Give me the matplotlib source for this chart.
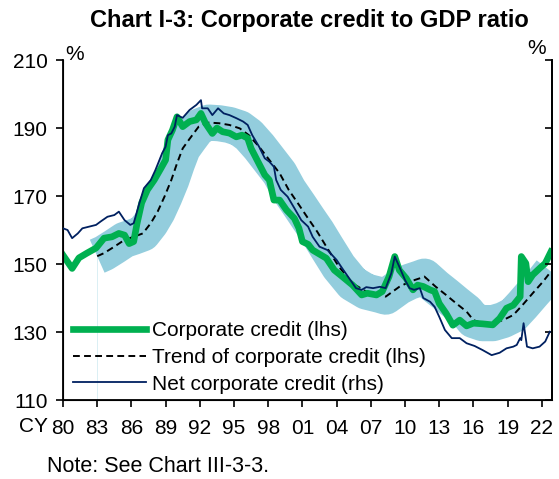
import matplotlib
matplotlib.use("Agg")
import matplotlib.pyplot as plt

plt.rcParams['font.family'] = ['Liberation Sans', 'DejaVu Sans']

# corporate credit to GDP (lhs), %
corp_years = [1980.0, 1980.8, 1981.4, 1982.1, 1982.9, 1983.6, 1984.3, 1984.9, 1985.4, 1985.8,
              1986.2, 1986.5, 1986.9, 1987.4, 1988.0, 1988.6, 1989.0, 1989.2, 1989.6, 1990.0,
              1990.5, 1991.1, 1991.7, 1992.1, 1992.5, 1993.1, 1993.5, 1994.0, 1994.6, 1995.2,
              1995.7, 1996.2, 1996.5, 1997.1, 1997.7, 1998.1, 1998.5, 1999.0, 1999.6, 2000.3,
              2000.7, 2001.0, 2001.5, 2001.9, 2003.1, 2003.8, 2004.5, 2005.4, 2006.2, 2006.7,
              2007.5, 2008.0, 2008.6, 2009.1, 2009.5, 2010.1, 2010.7, 2011.1, 2011.6, 2012.2,
              2012.6, 2013.0, 2013.6, 2014.2, 2014.8, 2015.4, 2016.0, 2016.8, 2017.7, 2018.3,
              2018.9, 2019.5, 2020.1, 2020.2, 2020.6, 2020.8, 2021.2, 2021.8, 2022.3, 2022.8]
corp_vals = [152.6, 148.7, 151.8, 153.2, 154.7, 157.6, 158.0, 159.0, 158.5, 156.0,
             156.6, 162.0, 168.0, 171.8, 174.7, 178.2, 180.6, 186.5, 189.4, 193.3,
             190.4, 191.9, 192.4, 194.3, 191.4, 188.4, 190.0, 188.9, 188.5, 187.4,
             187.9, 187.0, 184.0, 180.1, 176.2, 174.7, 168.8, 168.8, 165.9, 163.4,
             160.5, 156.6, 155.8, 154.1, 151.7, 148.2, 146.3, 143.8, 140.9, 141.4,
             140.9, 141.9, 146.3, 152.2, 148.2, 145.8, 142.4, 143.8, 143.4, 142.4,
             141.9, 138.4, 135.5, 132.0, 133.5, 131.8, 132.6, 132.4, 132.1, 134.0,
             137.0, 137.9, 140.4, 152.2, 150.2, 144.8, 146.8, 148.7, 150.2, 153.6]

# trend of corporate credit (lhs)
trend_years = [1983.0, 1983.6, 1984.5, 1985.4, 1986.2, 1987.0, 1987.7, 1988.3, 1988.9, 1989.5,
               1990.0, 1990.5, 1991.1, 1991.9, 1992.8, 1993.7, 1994.6, 1995.5, 1996.3, 1997.2,
               1998.1, 1999.0, 1999.8, 2000.7, 2001.5, 2002.3, 2003.1, 2004.2, 2005.4, 2006.6,
               2007.8, 2008.3, 2009.5, 2010.4, 2011.3, 2011.7, 2012.7, 2013.6, 2014.5, 2015.4,
               2016.0, 2016.8, 2017.7, 2018.6, 2019.5, 2020.3, 2021.2, 2022.1, 2022.8]
trend_vals = [152.3, 153.2, 155.1, 157.1, 158.0, 159.0, 162.0, 165.4, 169.8, 174.7,
              179.6, 184.0, 186.8, 190.4, 191.6, 191.4, 190.9, 189.9, 187.9, 184.5,
              180.6, 176.7, 171.8, 167.4, 163.4, 159.5, 155.1, 149.2, 144.3, 141.9,
              140.9, 140.4, 143.3, 144.8, 145.8, 146.3, 143.3, 140.9, 138.4, 136.0,
              133.5, 132.6, 132.6, 133.5, 135.0, 137.9, 141.4, 144.8, 147.8]

# net corporate credit (rhs)
net_years = [1980.0, 1980.4, 1980.8, 1981.3, 1981.7, 1982.3, 1982.9, 1983.3, 1983.9, 1984.5,
             1984.9, 1985.4, 1985.9, 1986.2, 1986.7, 1987.1, 1987.7, 1988.1, 1988.4, 1988.7,
             1989.0, 1989.2, 1989.5, 1989.8, 1990.0, 1990.5, 1991.1, 1991.7, 1992.1, 1992.2,
             1992.7, 1993.1, 1993.6, 1994.1, 1994.6, 1995.2, 1995.8, 1996.2, 1996.6, 1997.2,
             1997.7, 1998.1, 1998.5, 1998.7, 1999.1, 1999.7, 2000.3, 2000.9, 2001.5, 2001.9,
             2002.5, 2003.2, 2004.0, 2004.5, 2005.1, 2005.7, 2006.2, 2006.6, 2007.2, 2007.8,
             2008.3, 2008.8, 2009.1, 2009.5, 2010.0, 2010.4, 2010.8, 2011.3, 2011.6, 2012.2,
             2012.6, 2013.0, 2013.5, 2014.1, 2014.8, 2015.4, 2016.1, 2016.8, 2017.6, 2018.3,
             2018.9, 2019.5, 2019.8, 2020.1, 2020.2, 2020.4, 2020.7, 2021.2, 2021.8, 2022.3,
             2022.7]
net_vals = [160.5, 160.0, 157.6, 159.0, 160.5, 161.0, 161.5, 162.5, 163.9, 164.4,
            165.4, 162.9, 161.5, 162.0, 167.9, 172.3, 174.7, 177.6, 180.1, 182.6,
            184.5, 187.9, 188.4, 190.4, 193.8, 193.0, 195.3, 196.8, 198.2, 195.8,
            195.8, 193.8, 195.8, 194.3, 193.8, 192.9, 191.9, 190.9, 187.9, 184.5,
            181.1, 180.1, 178.6, 174.7, 171.8, 169.8, 166.4, 162.9, 161.0, 158.0,
            155.1, 154.1, 151.2, 148.7, 145.8, 142.9, 142.4, 143.2, 142.9, 143.3,
            142.9, 147.3, 152.2, 149.2, 145.3, 142.9, 142.4, 142.9, 140.0, 138.9,
            137.4, 134.5, 130.6, 128.2, 128.2, 126.7, 125.9, 124.7, 123.2, 123.9,
            125.2, 125.7, 126.2, 128.2, 127.6, 132.6, 125.7, 125.2, 125.7, 127.2,
            130.1]

tick_years = list(range(1980, 2023, 3))
tick_labels = [f"{y % 100:02d}" for y in tick_years]

fig = plt.figure(figsize=(5.59, 4.79), dpi=100)
ax = fig.add_axes([0.1127, 0.1649, 0.8739, 0.7098])

# band around the trend, then trend and corporate credit
ax.vlines(trend_years[0], 110, trend_vals[0], color='#d5ecf3', lw=0.6, zorder=1)
ax.plot(trend_years, trend_vals, color='#93cddd', lw=26, solid_capstyle='butt',
        solid_joinstyle='round', zorder=2)
l_trend, = ax.plot(trend_years, trend_vals, color='black', lw=1.4, ls=(0, (3.5, 2.2)), zorder=3,
                   label='Trend of corporate credit (lhs)')
l_corp, = ax.plot(corp_years, corp_vals, color='#00b050', lw=4.8, zorder=4,
                  label='Corporate credit (lhs)')

ax.set_xlim(1980, 2022.85)
ax.set_ylim(110, 210)
ax.set_yticks([110, 130, 150, 170, 190, 210])
ax.set_xticks(tick_years)
ax.set_xticklabels(tick_labels)
ax.tick_params(axis='both', labelsize=15, width=1.2, length=5, color='black')
ax.tick_params(axis='y', pad=6)
ax.tick_params(axis='x', pad=9)
ax.spines['top'].set_visible(False)
for s in ['left', 'bottom', 'right']:
    ax.spines[s].set_linewidth(1.3)

ax2 = ax.twinx()
ax2.set_ylim(110, 210)
ax2.set_yticks([110, 130, 150, 170, 190, 210])
ax2.tick_params(axis='y', direction='in', length=5, width=1.2, labelright=False)
ax2.spines['top'].set_visible(False)
ax2.spines['right'].set_linewidth(1.3)
l_net, = ax2.plot(net_years, net_vals, color='#002060', lw=1.3, zorder=5,
                  label='Net corporate credit (rhs)')

ax.legend(handles=[l_corp, l_trend, l_net], loc='upper left', bbox_to_anchor=(0.02, 0.232),
          frameon=False, fontsize=15, handlelength=3.5, handletextpad=0.3,
          labelspacing=0.37, borderpad=0, borderaxespad=0)

fig.text(0.553, 1 - 20 / 479, 'Chart I-3: Corporate credit to GDP ratio', fontsize=17,
         fontweight='bold', ha='center', va='center')
fig.text(75 / 559, 1 - 54 / 479, '%', fontsize=15, ha='center', va='center')
fig.text(537 / 559, 1 - 48 / 479, '%', fontsize=15, ha='center', va='center')
fig.text(33 / 559, 1 - 426 / 479, 'CY', fontsize=15, ha='center', va='center')
fig.text(47 / 559, 1 - 467 / 479, 'Note: See Chart III-3-3.', fontsize=15.5, ha='left', va='center')

fig.savefig('out.png', dpi=100)
